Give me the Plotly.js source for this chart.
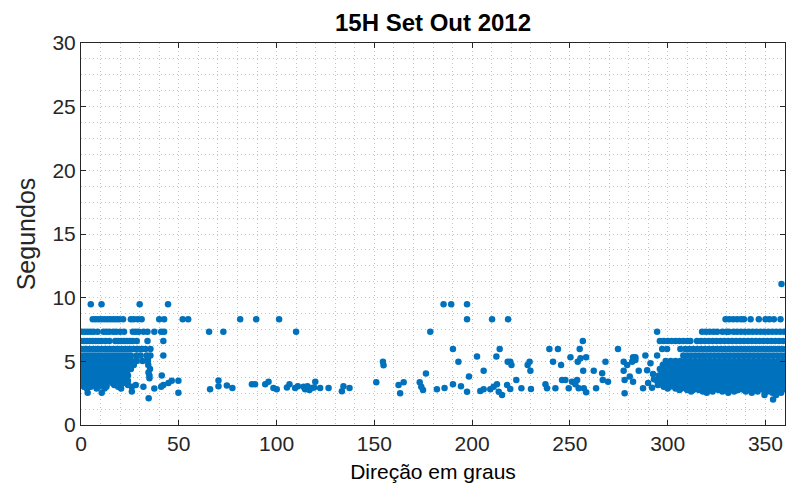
<!DOCTYPE html>
<html>
<head>
<meta charset="utf-8">
<script src="https://cdn.plot.ly/plotly-3.0.1.min.js"></script>
<style>html,body{margin:0;padding:0;background:#fff;}#chart{width:787px;height:495px;}</style>
</head>
<body>
<div id="chart"></div>
<script>
// ---------- DATA ----------
const chartTitle = '15H Set Out 2012';
const xLabel = 'Direção em graus';
const yLabel = 'Segundos';

// Row levels (seconds) and the directions (degrees) of the points on each row
const s1108 = 11.08, d1108 = [358.2];
const s948 = 9.48, d948 = [5, 10.5, 30, 44.5, 185.4, 189.3, 197.4];
const s830 = 8.30, d830 = [6, 7.5, 9, 10.5, 12, 13.5, 15, 16.5, 18, 19.5, 21.5, 25.5, 27, 29, 31, 40, 42.5, 52, 54.8, 81.4, 89.6, 101.3, 197.4, 210.2, 218.4, 329.6, 331.5, 333.5, 335.5, 337.5, 339, 342.4, 346.6, 350, 352, 354.3, 357.7];
const s733 = 7.33, d733 = [0.5, 2, 3.5, 5, 6.5, 8.5, 11.5, 13, 14.5, 16.5, 18, 20, 22, 26.5, 28, 29.5, 32, 34, 37.5, 41, 42.5, 65.5, 72.8, 110, 178.6, 294.6, 317.6, 319.5, 321.5, 323.5, 325.3, 328, 330, 331.3, 333.7, 335.5, 337.5, 339.5, 341.5, 343.5, 345.5, 347.5, 349.5, 351.5, 353.5, 355.5, 357.5, 359.5];
const s660 = 6.60, d660 = [0, 1.5, 3, 4.5, 6, 7.5, 9, 10.5, 12.5, 14.5, 17.5, 19, 20.5, 22, 23.5, 25, 26.5, 28.5, 34, 42.1, 256.6, 296, 298, 300, 302, 304, 306, 308, 310, 311.6, 315, 317, 319, 321, 323, 325, 327, 329, 331, 333, 335, 337, 339, 341, 343, 345, 347, 349, 351, 353, 355, 357, 359];
const s597 = 5.97, d597 = [0, 1.5, 3, 4.5, 6, 7.5, 9, 10.5, 12, 13.5, 15, 16.5, 18, 19.5, 21, 22.5, 24, 25.5, 27, 28.5, 30, 31.5, 33, 35.5, 190.2, 214.1, 239.5, 243.9, 255, 274.6, 297.2, 299.7, 306.5, 309, 311, 313, 315, 317, 319, 321, 323, 325, 327, 329, 331, 333, 335, 337, 339, 341, 343, 345, 347, 349, 351, 353, 355, 357, 359];
const s546 = 5.45, d546 = [0, 1.5, 3, 4.5, 6, 7.5, 9, 10.5, 12, 13.5, 15, 16.5, 18, 19.5, 21, 22.5, 24, 25.5, 28.5, 30.5, 33.6, 35.5, 42.1, 288.6, 294.6, 308, 310, 312, 314, 316, 318, 320, 322, 324, 326, 328, 330, 332, 334, 336, 338, 340, 342, 344, 346, 348, 350, 352, 354, 356, 358, 360];

// Dense low-period blobs (left: 0-45 deg, right: 295-360 deg)
const s503 = 5.03, d503 = [0, 2, 4, 6, 8, 10, 12, 14, 16, 18, 20, 22, 24, 26, 28.5, 31.5, 34.2, 299, 301.5, 304, 306.5, 309, 311.5, 314, 316.5, 319, 321.5, 324, 326.5, 329, 331.5, 334, 336.5, 339, 341.5, 344, 346.5, 349, 351.5, 354, 356.5, 359];
const s471 = 4.71, d471 = [0.5, 2.5, 4.5, 6.5, 8.5, 10.5, 12.5, 14.5, 16.5, 18.5, 20.5, 22.5, 24.5, 27, 34.4, 297.5, 300, 302.5, 305, 307.5, 310, 312.5, 315, 317.5, 320, 322.5, 325, 327.5, 330, 332.5, 335, 337.5, 340, 342.5, 345, 347.5, 350, 352.5, 355, 357.5, 360];
const s440 = 4.40, d440 = [0, 2, 4, 6, 8, 10, 12, 14, 16, 18, 20, 22, 24, 25.5, 35.3, 296, 298.5, 301, 303.5, 306, 308.5, 311, 313.5, 316, 318.5, 321, 323.5, 326, 328.5, 331, 333.5, 336, 338.5, 341, 343.5, 346, 348.5, 351, 353.5, 356, 358.5];
const s412 = 4.12, d412 = [0.5, 2.5, 4.5, 6.5, 8.5, 10.5, 12.5, 14.5, 16.5, 18.5, 21, 23.5, 34.5, 297, 299.5, 302, 304.5, 307, 309.5, 312, 314.5, 317, 319.5, 322, 324.5, 327, 329.5, 332, 334.5, 337, 339.5, 342, 344.5, 347, 349.5, 352, 354.5, 357, 359.5];
const s388 = 3.88, d388 = [0, 2, 4, 6, 8, 10, 12, 14, 16, 18.5, 21, 24, 35, 41.3, 295.5, 298, 300.5, 303, 305.5, 308, 310.5, 313, 315.5, 318, 320.5, 323, 325.5, 328, 330.5, 333, 335.5, 338, 340.5, 343, 345.5, 348, 350.5, 353, 355.5, 358, 360];
const s367 = 3.67, d367 = [0.5, 2.5, 4.5, 6.5, 8.5, 10.5, 12.5, 15, 17.5, 20, 22.5, 35, 296.5, 299, 301.5, 304, 306.5, 309, 311.5, 314, 316.5, 319, 321.5, 324, 326.5, 329, 331.5, 334, 336.5, 339, 341.5, 344, 346.5, 349, 351.5, 354, 356.5, 359];
const s347 = 3.47, d347 = [0, 2, 4, 6, 8, 10, 12.5, 15, 18, 21, 24, 46.4, 49.8, 294.5, 297, 299.5, 302, 304.5, 307, 309.5, 312, 314.5, 317, 319.5, 322, 324.5, 327, 329.5, 332, 334.5, 337, 339.5, 342, 344.5, 347, 349.5, 352, 354.5, 357, 359.5];
const s330 = 3.30, d330 = [0.5, 2.5, 5, 7.5, 10, 12.5, 16, 19, 23, 44.7, 296, 298.5, 301, 303.5, 306, 308.5, 311, 313.5, 316, 318.5, 321, 323.5, 326, 328.5, 331, 333.5, 336, 338.5, 341, 343.5, 346, 348.5, 351, 353.5, 356, 358.5];
const s314 = 3.14, d314 = [1, 4, 7, 10, 13, 17, 20.5, 24, 28, 42.1, 295, 297.5, 300, 302.5, 305, 307.5, 310, 312.5, 315, 317.5, 320, 322.5, 325, 327.5, 330, 332.5, 335, 337.5, 340, 342.5, 345, 347.5, 350, 352.5, 355, 357.5, 360];
const s300 = 3.00, d300 = [1.5, 5, 9, 13, 19, 26, 31.9, 41, 298, 301, 303.5, 306, 308.5, 311, 313.5, 316, 318.5, 321, 323.5, 326, 328.5, 331, 333.5, 336, 338.5, 341, 343.5, 346, 348.5, 351, 353.5, 356, 358.5];
const s287 = 2.87, d287 = [3, 8, 12, 20.5, 37.5, 300, 304, 307, 309.5, 312, 314.5, 317, 319.5, 322, 324.5, 327, 329.5, 332, 334.5, 337, 339.5, 342, 344.5, 347, 349.5, 352, 354.5, 357, 359.5];
const s275 = 2.75, d275 = [306, 310, 313, 316, 319, 322.5, 326, 329, 332.5, 336, 339, 342, 345.5, 349, 352, 355, 358.5];
const s264 = 2.64, d264 = [26, 312, 318, 323, 328, 334, 340, 346, 351, 356];
const s254 = 2.54, d254 = [3.4, 10.6, 49.8, 320, 331, 343, 353.5, 358];
const s236 = 2.36, d236 = [349.5, 355.5];
const s210 = 2.10, d210 = [34.6];
const s200 = 2.00, d200 = [353.9];

// Scattered individual points (direction, seconds)
const scatDir = [66, 70.3, 70.3, 74.6, 77.4, 87.4, 89, 94.2, 95.9, 98.4, 100.1, 105.3, 106.6, 109.5, 110.9, 113.8, 114.6, 115.8, 116.8, 118, 119.8, 119.2, 122.3, 126.6, 133.4, 134.2, 137.3, 151, 154.4, 154.7, 162.4, 163.2, 165, 173.2, 174, 174.9, 176.4, 182, 185.9, 190.2, 193, 194.3, 197.4, 198.4, 202.5, 205.9, 204.2, 205.9, 209.3, 211, 212.7, 212.4, 213.6, 215.3, 217.9, 218.2, 219.5, 220.1, 219.5, 222.6, 225.2, 228.4, 229.4, 229.8, 230.1, 237.5, 238.3, 241.4, 242.6, 245.5, 246, 247.7, 249.4, 250.3, 251.1, 252.8, 253.7, 254, 254.5, 255.4, 256.8, 257.1, 258.3, 258.3, 262.2, 263.4, 266.5, 266.8, 268.2, 269.5, 277.5, 277.5, 278, 278, 279.3, 280.6, 281.8, 282.3, 283.5, 282.3, 285.2, 287.4, 289.5, 291.2, 292, 283.5, 290, 293, 292.5, 34.2, 28.5];
const scatSec = [2.8, 3.5, 3.05, 3.1, 2.9, 3.2, 3.2, 3.2, 3.4, 2.9, 2.8, 2.95, 3.2, 2.9, 3.05, 3.0, 2.8, 3.05, 2.75, 2.9, 3.4, 2.95, 2.9, 2.9, 2.65, 3.05, 2.9, 3.35, 4.97, 4.7, 3.15, 2.5, 3.35, 3.35, 3.0, 2.75, 4.05, 2.8, 2.9, 3.2, 4.97, 3.05, 2.62, 3.8, 5.37, 4.27, 2.67, 2.8, 2.8, 3.0, 3.2, 5.37, 2.62, 2.36, 3.15, 4.97, 4.97, 4.71, 2.83, 3.53, 2.88, 4.71, 4.97, 4.27, 2.83, 3.2, 2.88, 4.97, 2.88, 4.71, 3.53, 3.53, 2.88, 5.32, 3.4, 3.2, 3.53, 4.97, 2.88, 5.24, 4.27, 2.88, 2.57, 5.32, 4.27, 2.88, 4.06, 3.53, 4.97, 3.4, 4.97, 4.27, 3.53, 2.5, 4.71, 3.8, 4.97, 5.32, 5.32, 3.4, 4.27, 2.88, 4.3, 4.84, 2.93, 5.1, 3.3, 3.6, 4.0, 5.2, 5.37];

const xTickStep = 50, yTickStep = 5;
const xRange = [0, 360], yRange = [0, 30];

// ---------- BUILD ----------
const rowSecs = [s1108, s948, s830, s733, s660, s597, s546, s503, s471, s440, s412, s388, s367, s347, s330, s314, s300, s287, s275, s264, s254, s236, s210, s200];
const rowDirs = [d1108, d948, d830, d733, d660, d597, d546, d503, d471, d440, d412, d388, d367, d347, d330, d314, d300, d287, d275, d264, d254, d236, d210, d200];
const allX = [], allY = [];
rowDirs.forEach((arr, i) => arr.forEach(d => { allX.push(d); allY.push(rowSecs[i]); }));
scatDir.forEach((d, i) => { allX.push(d); allY.push(scatSec[i]); });

const FONT = 'Liberation Sans, Arial, Helvetica, sans-serif';
const AXC = '#262626';
const GRID = '#c4c4c4';
const DASH = '1px,3px';

const trace = {
  type: 'scatter', mode: 'markers', x: allX, y: allY,
  marker: {size: 6.5, color: '#0072BD', line: {width: 0}},
  hoverinfo: 'skip', cliponaxis: true
};

const layout = {
  width: 787, height: 495,
  margin: {l: 81, r: 2, t: 43, b: 70},
  paper_bgcolor: '#fff', plot_bgcolor: '#fff',
  showlegend: false,
  title: {text: '<b>' + chartTitle + '</b>', font: {family: FONT, size: 24, color: '#000'},
          x: 0.5, xref: 'paper', xanchor: 'center', y: 1 - 23 / 495, yref: 'container', yanchor: 'middle'},
  xaxis: {
    range: xRange, tickmode: 'linear', tick0: 0, dtick: xTickStep,
    ticks: 'inside', ticklen: 5, tickwidth: 1, tickcolor: AXC,
    showline: true, linecolor: AXC, linewidth: 1, mirror: 'allticks',
    showgrid: true, gridcolor: GRID, gridwidth: 1, griddash: DASH,
    minor: {dtick: 10, tick0: 0, showgrid: true, gridcolor: GRID, gridwidth: 1, griddash: DASH, ticks: ''},
    zeroline: false, fixedrange: true,
    tickfont: {family: FONT, size: 21, color: AXC},
    title: {text: xLabel, font: {family: FONT, size: 21, color: '#000'}, standoff: 10}
  },
  yaxis: {
    range: yRange, tickmode: 'linear', tick0: 0, dtick: yTickStep,
    ticks: 'inside', ticklen: 5, tickwidth: 1, tickcolor: AXC,
    showline: true, linecolor: AXC, linewidth: 1, mirror: 'allticks',
    showgrid: true, gridcolor: GRID, gridwidth: 1, griddash: DASH,
    minor: {dtick: 1.25, tick0: 0, showgrid: true, gridcolor: GRID, gridwidth: 1, griddash: DASH, ticks: ''},
    zeroline: false, fixedrange: true,
    tickfont: {family: FONT, size: 21, color: AXC},
    title: {text: yLabel, font: {family: FONT, size: 25, color: AXC}, standoff: 9}
  }
};

Plotly.newPlot('chart', [trace], layout, {displayModeBar: false, staticPlot: true});
</script>
</body>
</html>
